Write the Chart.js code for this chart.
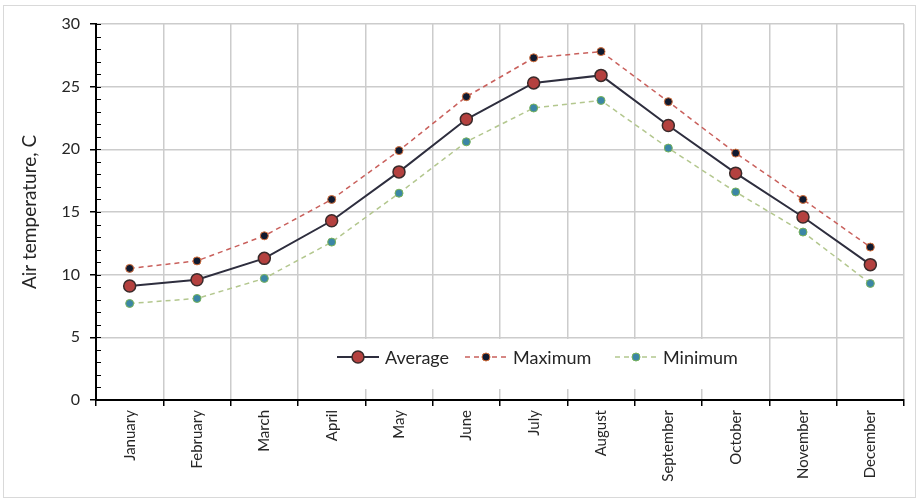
<!DOCTYPE html>
<html>
<head>
<meta charset="utf-8">
<script src="https://cdn.jsdelivr.net/npm/chart.js@4.4.1/dist/chart.umd.min.js"></script>
<style>
  html, body { margin: 0; padding: 0; background: #fff; }
  #wrap { width: 920px; height: 502px; }
</style>
</head>
<body>
<div id="wrap"><canvas id="tempChart" width="920" height="502"></canvas></div>
<script>
const months = ['January', 'February', 'March', 'April', 'May', 'June',
    'July', 'August', 'September', 'October', 'November', 'December'];
const avgTemp = [9.1, 9.6, 11.3, 14.3, 18.2, 22.4, 25.3, 25.9, 21.9, 18.1, 14.6, 10.8];
const maxTemp = [10.5, 11.1, 13.1, 16.0, 19.9, 24.2, 27.3, 27.8, 23.8, 19.7, 16.0, 12.2];
const minTemp = [7.7, 8.1, 9.7, 12.6, 16.5, 20.6, 23.3, 23.9, 20.1, 16.6, 13.4, 9.3];
const yTicks = [0, 5, 10, 15, 20, 25, 30];

const fontFamily = 'Lato, "Open Sans", sans-serif';

// kotak tipis di sekeliling gambar + tick kecil sumbu y
const framePlugin = {
    id: 'frame',
    beforeDraw(chart) {
        const ctx = chart.ctx;
        ctx.save();
        ctx.fillStyle = '#fff';
        ctx.fillRect(0, 0, chart.width, chart.height);
        ctx.strokeStyle = '#d9d9d9';
        ctx.lineWidth = 1;
        ctx.strokeRect(3.5, 5.5, 912, 492);
        ctx.restore();
    },
    afterDraw(chart) {
        const ctx = chart.ctx;
        const y = chart.scales.y;
        const x0 = chart.chartArea.left;
        ctx.save();
        ctx.strokeStyle = '#000';
        ctx.lineWidth = 1;
        for (let v = y.min; v <= y.max; v++) {
            const py = Math.round(y.getPixelForValue(v)) + 0.5;
            ctx.beginPath();
            ctx.moveTo(x0, py);
            ctx.lineTo(x0 + 5, py);
            ctx.stroke();
        }
        ctx.restore();
    }
};

// legenda di dalam area plot
const innerLegend = {
    id: 'innerLegend',
    afterDatasetsDraw(chart) {
        const ctx = chart.ctx;
        const items = chart.data.datasets;
        const startX = [337, 465, 615];
        const cy = 357;
        ctx.save();
        ctx.fillStyle = '#fff';
        ctx.fillRect(316, 339, 439, 50);
        ctx.font = '18px ' + fontFamily;
        ctx.textBaseline = 'middle';
        items.forEach((ds, i) => {
            const x = startX[i];
            ctx.strokeStyle = ds.borderColor;
            ctx.lineWidth = ds.borderWidth;
            ctx.setLineDash(ds.borderDash || []);
            ctx.beginPath();
            ctx.moveTo(x, cy);
            ctx.lineTo(x + 42, cy);
            ctx.stroke();
            ctx.setLineDash([]);
            ctx.beginPath();
            ctx.arc(x + 21, cy, ds.pointRadius, 0, Math.PI * 2);
            ctx.fillStyle = ds.pointBackgroundColor;
            ctx.fill();
            ctx.strokeStyle = ds.pointBorderColor;
            ctx.lineWidth = ds.pointBorderWidth;
            ctx.stroke();
            ctx.fillStyle = '#262626';
            ctx.fillText(ds.label, x + 48, cy + 1);
        });
        ctx.restore();
    }
};

const ctx = document.getElementById('tempChart').getContext('2d');
const tempChart = new Chart(ctx, {
    type: 'line',
    data: {
        labels: months,
        datasets: [
            {
                label: 'Average',
                data: avgTemp,
                borderColor: '#2e2e3e',
                borderWidth: 2,
                pointRadius: 6,
                pointBackgroundColor: '#b4413f',
                pointBorderColor: '#3a2a2a',
                pointBorderWidth: 1.5,
                tension: 0
            },
            {
                label: 'Maximum',
                data: maxTemp,
                borderColor: '#c9605c',
                borderWidth: 1.5,
                borderDash: [5, 4],
                pointRadius: 4,
                pointBackgroundColor: '#101a30',
                pointBorderColor: '#d5703c',
                pointBorderWidth: 1,
                tension: 0
            },
            {
                label: 'Minimum',
                data: minTemp,
                borderColor: '#b3c78e',
                borderWidth: 1.5,
                borderDash: [5, 4],
                pointRadius: 4,
                pointBackgroundColor: '#3b86a6',
                pointBorderColor: '#79b35a',
                pointBorderWidth: 1,
                tension: 0
            }
        ]
    },
    options: {
        responsive: false,
        animation: false,
        layout: { padding: { left: 18, right: 16, top: 24, bottom: 5 } },
        plugins: {
            legend: { display: false },
            tooltip: { enabled: false }
        },
        scales: {
            x: {
                offset: true,
                grid: {
                    offset: true,
                    color: '#cccccc',
                    lineWidth: 1.5,
                    tickColor: '#000',
                    tickLength: 6
                },
                border: { color: '#000', width: 2 },
                ticks: {
                    maxRotation: 90,
                    minRotation: 90,
                    color: '#262626',
                    font: { family: fontFamily, size: 15 },
                    padding: 4
                },
                afterFit(scale) { scale.height = 97; }
            },
            y: {
                min: 0,
                max: 30,
                afterBuildTicks(scale) {
                    scale.ticks = yTicks.map(v => ({ value: v }));
                },
                grid: {
                    color: '#cccccc',
                    lineWidth: 1.5,
                    tickColor: '#000',
                    tickLength: 6
                },
                border: { color: '#000', width: 2 },
                ticks: {
                    color: '#262626',
                    font: { family: fontFamily, size: 16 },
                    padding: 10
                },
                title: {
                    display: true,
                    text: 'Air temperature, C',
                    color: '#262626',
                    font: { family: fontFamily, size: 19 },
                    padding: { top: 0, bottom: 4 }
                },
                afterFit(scale) { scale.width = 78; }
            }
        }
    },
    plugins: [framePlugin, innerLegend]
});
</script>
</body>
</html>
